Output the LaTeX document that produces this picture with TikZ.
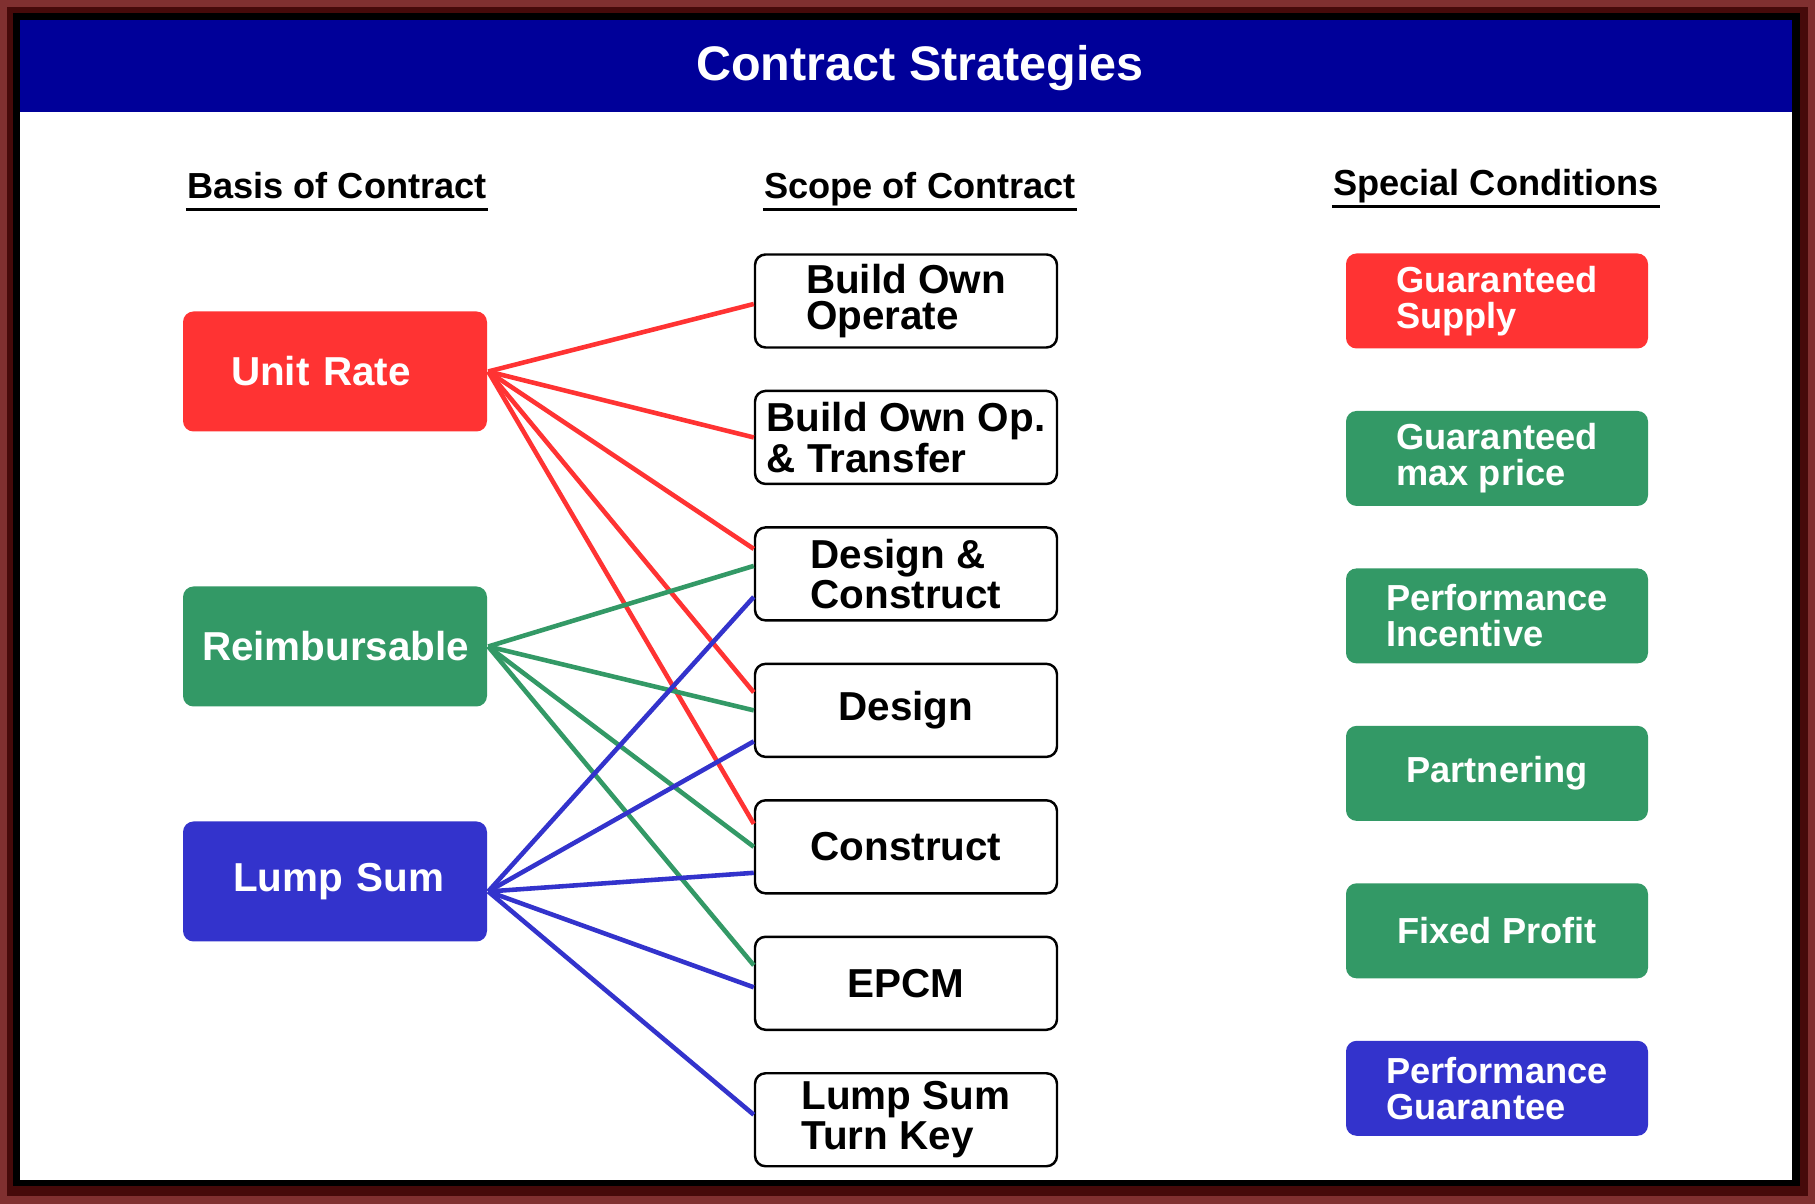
\documentclass[tikz,border=0pt]{standalone}
\usepackage{fontspec}
\setmainfont{Liberation Sans}
\usetikzlibrary{positioning}
\definecolor{rojo}{RGB}{255,51,51}
\definecolor{verde}{RGB}{51,153,102}
\definecolor{azul}{RGB}{51,51,204}
\definecolor{azulosc}{RGB}{0,0,153}
\definecolor{marco}{RGB}{128,48,48}
\definecolor{marcoosc}{RGB}{70,10,10}

\begin{document}
\begin{tikzpicture}[line width=0.7pt,
  base/.style={rounded corners=3pt, minimum width=3.04cm, minimum height=1.2cm,
    inner xsep=0.48cm, text width=2.08cm, text=white, align=left,
    font=\bfseries\fontsize{11.5}{10.2}\selectfont},
  alcance/.style={draw, fill=white, rounded corners=3pt, minimum width=3.02cm,
    minimum height=0.93cm, inner ysep=1pt, align=left,
    font=\bfseries\fontsize{11.5}{10.2}\selectfont},
  especial/.style={rounded corners=3pt, minimum width=3.02cm, minimum height=0.95cm,
    inner ysep=1pt, text=white, align=left,
    font=\bfseries\fontsize{10.3}{10.2}\selectfont},
  encab/.style={anchor=base, inner xsep=0pt, inner ysep=2.6pt, text depth=0pt,
    font=\bfseries\fontsize{10.3}{12}\selectfont},
  conex/.style={line width=1.3pt}]
  % marco y cabecera
  \fill[marco] (0,0) rectangle (18.15,12.04);
  \fill[marcoosc] (0.07,0.08) rectangle (18.08,11.97);
  \fill[black] (0.13,0.18) rectangle (18.00,11.91);
  \fill[white] (0.20,0.24) rectangle (17.92,11.84);
  \fill[azulosc] (0.20,10.92) rectangle (17.92,11.84);
  \node[anchor=base, text=white, font=\bfseries\fontsize{13.8}{16}\selectfont]
    (titulo) at (9.2,11.23) {Contract Strategies};

  % encabezados de columna
  \node[encab] (bc) at (3.37,10.05) {Basis of Contract};
  \node[encab] (sc) at (9.20,10.05) {Scope of Contract};
  \node[encab] (cs) at (14.96,10.08) {Special Conditions};
  \foreach \n in {bc,sc,cs}
    \draw[line width=0.8pt] (\n.south west) -- (\n.south east);

  % base del contrato
  \node[base, fill=rojo] (ur) at (3.35,8.325) {Unit Rate};
  \node[base, fill=verde, inner xsep=0.19cm, text width=2.66cm] (re) at (3.35,5.575) {Reimbursable};
  \node[base, fill=azul, inner xsep=0.5cm, text width=2.04cm] (ls) at (3.35,3.225) {Lump~Sum};

  % alcance
  \node[alcance] (boo) at (9.06,9.03) {Build Own\\Operate};
  \node[alcance, below=0.41cm of boo] (boot) {Build Own Op.\\\& Transfer};
  \node[alcance, below=0.41cm of boot] (dc) {Design \&\\Construct};
  \node[alcance, below=0.41cm of dc] (dis) {Design};
  \node[alcance, below=0.41cm of dis] (con) {Construct};
  \node[alcance, below=0.41cm of con] (epcm) {EPCM};
  \node[alcance, below=0.41cm of epcm] (lstk) {Lump Sum\\Turn Key};

  % condiciones especiales
  \node[especial, fill=rojo] (gs) at (14.97,9.03) {Guaranteed\\Supply};
  \node[especial, fill=verde, below=0.60cm of gs] (gmp) {Guaranteed\\max price};
  \node[especial, fill=verde, below=0.60cm of gmp] (pi) {Performance\\Incentive};
  \node[especial, fill=verde, below=0.60cm of pi] (par) {Partnering};
  \node[especial, fill=verde, below=0.60cm of par] (fp) {Fixed Profit};
  \node[especial, fill=azul, below=0.60cm of fp] (pg) {Performance\\Guarantee};

  % conexiones
  \foreach \d/\s in {boo/-0.03,boot/0,dc/0.25,dis/0.18,con/0.23}
    \draw[conex, rojo] (ur.east) -- ([yshift=\s cm]\d.west);
  \foreach \d/\s in {dc/0.08,dis/0,con/0,epcm/0.18}
    \draw[conex, verde] (re.east) -- ([yshift=\s cm]\d.west);
  \foreach \d/\s in {dc/-0.23,dis/-0.31,con/-0.26,epcm/-0.04,lstk/0.05}
    \draw[conex, azul] ([yshift=-0.1cm]ls.east) -- ([yshift=\s cm]\d.west);
\end{tikzpicture}
\end{document}
